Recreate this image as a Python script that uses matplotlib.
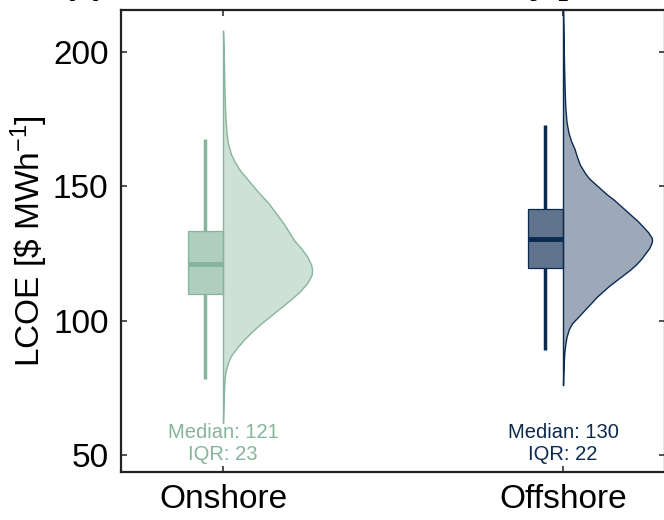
import numpy as np
import matplotlib
matplotlib.use("Agg")
import matplotlib.pyplot as plt
from matplotlib.colors import to_rgba

plt.rcParams["font.family"] = ["Liberation Sans", "DejaVu Sans"]
plt.rcParams["mathtext.fontset"] = "custom"
plt.rcParams["mathtext.rm"] = "Liberation Sans"
plt.rcParams["mathtext.it"] = "Liberation Sans:italic"
plt.rcParams["mathtext.bf"] = "Liberation Sans:bold"

# ---- data -------------------------------------------------------------
categories = ["Onshore", "Offshore"]
colors = ["#86b49c", "#0b2a50"]

# box-plot summary statistics ($/MWh)
medians = [121.2, 130.4]
q1s = [110.1, 119.7]
q3s = [133.3, 141.7]
whisker_lo = [78.4, 89.2]
whisker_hi = [167.7, 172.9]

# estimated density profiles (LCOE level, density relative to the peak)
onshore_levels = [62, 66, 70, 74, 78, 81, 84, 87, 90, 93, 96, 99, 102, 105,
                  108, 111, 114, 117, 119, 121, 124, 127, 130, 133, 136, 140,
                  144, 148, 152, 156, 159, 162, 166, 170, 175, 185, 195, 202,
                  208]
onshore_density = [0.0, 0.3, 0.6, 1.0, 1.5, 2.5, 4.5, 8, 14, 21, 29, 38, 48,
                   58, 68, 77, 84, 88.5, 89, 88, 84, 78, 71, 66, 61, 53, 45,
                   35, 26, 17, 12, 8, 5, 3.5, 2.5, 1.5, 1.0, 0.6, 0.0]
offshore_levels = [76, 80, 84, 88, 91, 94, 97, 99, 101, 103, 105, 107, 109,
                   111, 113, 115, 117, 119, 121, 123, 125, 127, 129, 130, 131,
                   133, 135, 137, 139, 141, 143, 145, 147, 149, 151, 153, 155,
                   158, 161, 164, 167, 170, 174, 180, 188, 196, 205, 216]
offshore_density = [0.0, 0.3, 0.7, 1.3, 2.2, 3.5, 6, 9, 14, 19, 24, 29, 34,
                    40, 46, 53, 60, 67, 73, 78, 82, 86, 88.5, 89, 88.5, 85,
                    80, 75, 69, 63, 57, 51, 44, 38, 32, 26, 22, 17, 14, 11.5,
                    8, 5.5, 3.5, 2.2, 1.5, 1.0, 0.6, 0.0]

levels = [onshore_levels, offshore_levels]
densities = [onshore_density, offshore_density]

# ---- figure -----------------------------------------------------------
fig = plt.figure(figsize=(6.64, 5.2), dpi=100)
ax = fig.add_axes([121 / 664, 48 / 520, 544 / 664, 462 / 520])

positions = np.arange(len(categories))
violin_width = 0.262
box_width = 0.103

for i, pos in enumerate(positions):
    c = colors[i]
    lv = np.asarray(levels[i], dtype=float)
    dn = np.asarray(densities[i], dtype=float)
    dn = dn / dn.max() * violin_width
    ax.fill_betweenx(lv, pos, pos + dn, facecolor=to_rgba(c, 0.4),
                     edgecolor=c, linewidth=1.0, joinstyle="round", zorder=2)

    stats = [dict(med=medians[i], q1=q1s[i], q3=q3s[i],
                  whislo=whisker_lo[i], whishi=whisker_hi[i], fliers=[])]
    ax.bxp(stats, positions=[pos - box_width / 2], widths=box_width,
           patch_artist=True, showcaps=False, showfliers=False,
           manage_ticks=False,
           boxprops=dict(facecolor=to_rgba(c, 0.65), edgecolor=c,
                         linewidth=0.9),
           whiskerprops=dict(color=c, linewidth=2.5, solid_capstyle="butt"),
           medianprops=dict(color=c, linewidth=3.5, solid_capstyle="butt"),
           zorder=3)

    iqr = q3s[i] - q1s[i]
    ax.text(pos, 46.7, f"Median: {medians[i]:.0f}\nIQR: {iqr:.0f}",
            ha="center", va="bottom", fontsize=14.5, color=c,
            linespacing=1.2, zorder=4)

ax.set_xlim(-0.3, 1.3)
ax.set_ylim(43.7, 215.7)
ax.set_xticks(positions)
ax.set_xticklabels(categories)
ax.set_yticks([50, 100, 150, 200])
ax.set_ylabel(r"LCOE [\$ MWh$^{-1}$]", fontsize=24, labelpad=2)

ax.tick_params(axis="both", direction="in", top=True, right=True,
               length=4.2, width=1.1, labelsize=24, color="#222222")
ax.tick_params(axis="y", pad=9)
ax.tick_params(axis="x", pad=9)
for sp in ax.spines.values():
    sp.set_linewidth(1.6)
    sp.set_color("#222222")

fig.text(63 / 664, 525 / 520,
         r"(a) Levelized cost of electricity [\$ MWh$^{-1}$]",
         fontsize=24, fontweight="bold", ha="left", va="baseline")

fig.savefig("out.png", dpi=100)
